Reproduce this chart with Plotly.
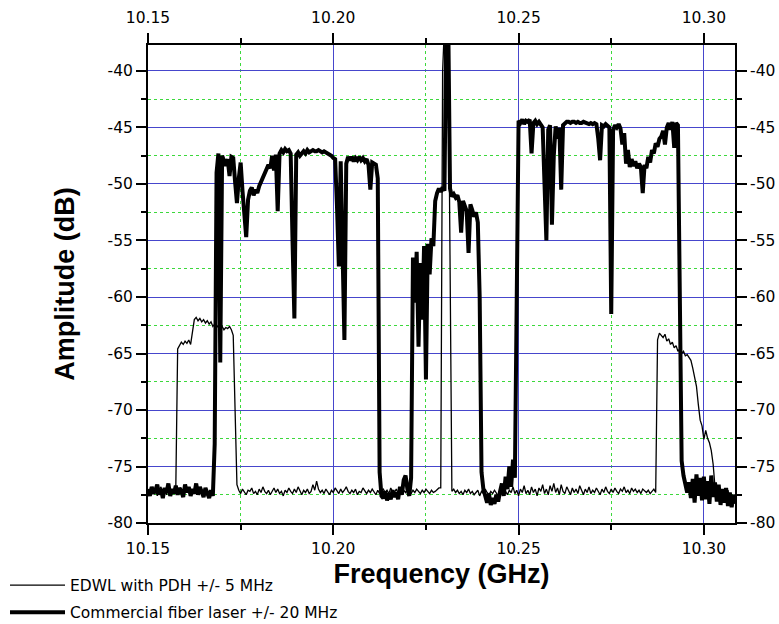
import plotly.graph_objects as go

# Sampling grid of the spectrum analyser trace (GHz)
f_start = 10.15
f_step = 0.0005

# EDWL with PDH +/- 5 MHz (thin trace), amplitudes in dB
edwl_amp = (
    # baseline
    [-77.2, -77.5, -76.9, -77.3, -77.0, -77.6, -77.1, -76.8, -77.4, -77.2,
     -77.5, -76.9, -77.3, -77.1, -77.4, -77.0]
    # lower sideband
    + [-64.6, -64.3, -64.0, -64.2, -63.9, -64.1, -63.8, -64.2, -63.0, -62.0,
       -61.8, -62.1, -61.9, -62.2, -62.0, -62.3, -62.1, -62.4, -62.2, -62.6,
       -62.4, -62.7, -62.5, -62.8, -62.6, -62.9, -62.7, -62.8, -62.6, -62.9,
       -63.4, -70.0, -76.6]
    # baseline
    + [-77.1, -77.4, -77.0, -77.3, -77.5, -77.1, -77.2, -76.9, -77.4, -77.2,
       -77.5, -77.0, -77.3, -76.8, -77.2, -77.4, -77.1, -77.5, -77.2, -76.9,
       -77.3, -77.0, -77.4, -77.2, -77.6, -77.1, -77.3, -76.9, -77.2, -77.4,
       -77.0, -77.3, -76.8, -77.2, -77.5, -77.1, -77.3, -77.0, -77.4, -77.2,
       -76.6, -77.1, -76.3, -77.0, -77.3, -77.1, -77.4, -77.0, -77.2, -77.5,
       -77.1, -77.3, -76.9, -77.2, -77.4, -77.0, -77.3, -77.1, -76.8, -77.2,
       -77.4, -77.1, -77.3, -77.0, -77.5, -77.2, -77.3, -76.9, -77.2, -77.4,
       -77.1, -77.3, -77.0, -77.2, -77.5, -77.1, -77.4, -77.2, -77.0, -77.3,
       -77.1, -77.4, -76.9, -77.2, -77.3, -77.0, -77.4, -77.2, -77.5, -77.1,
       -77.3, -77.0, -77.2, -77.4, -77.1, -77.3, -77.0, -77.2, -77.4, -77.1,
       -77.3, -77.0, -77.2, -77.4, -77.1, -77.3, -77.2, -77.0, -76.9]
    # carrier
    + [-76.9, -40.0, -36.0, -35.0, -36.0, -55.0, -77.2]
    # baseline
    + [-77.0, -77.3, -77.1, -77.4, -77.2, -77.5, -77.1, -77.3, -77.0, -77.4,
       -77.2, -77.5, -77.3, -77.1, -77.6, -77.2, -77.4, -77.0, -77.3, -77.5,
       -77.2, -77.4, -77.1, -77.3, -77.6, -77.2, -77.0, -77.4, -77.2, -77.5,
       -77.1, -77.3, -76.8, -77.4, -77.1, -77.6, -77.0, -77.3, -76.7, -77.4,
       -77.1, -77.5, -76.8, -77.3, -77.0, -77.6, -76.9, -77.2, -76.6, -77.4,
       -77.0, -77.5, -76.7, -77.2, -76.5, -77.3, -76.9, -77.5, -76.6, -77.2,
       -77.4, -76.8, -77.1, -77.5, -76.9, -77.3, -77.0, -77.4, -76.7, -77.2,
       -77.5, -77.0, -77.3, -76.8, -77.4, -77.1, -77.3, -76.9, -77.2, -77.5,
       -77.0, -77.3, -76.8, -77.2, -77.4, -77.0, -77.3, -76.9, -77.2, -77.4,
       -77.0, -77.2, -76.8, -77.3, -77.1, -77.4, -76.9, -77.2, -77.0, -77.3,
       -77.1, -77.4, -77.0, -77.2, -77.3, -77.1, -77.4, -77.2, -77.0, -77.3]
    # upper sideband
    + [-63.8, -63.2, -63.4, -63.6, -63.3, -63.9, -63.7, -64.2, -64.0, -64.5,
       -64.3, -64.8, -64.6, -65.0, -64.8, -65.2, -65.1, -65.4, -65.6, -66.3,
       -67.0, -67.9, -69.5, -70.9, -71.4, -72.6, -71.8, -72.5, -72.9, -73.6,
       -74.8, -76.8]
    # baseline
    + [-77.5, -77.9, -77.2, -78.0, -77.4, -77.8, -77.1, -77.9, -77.5, -78.1,
       -77.6]
)

# Commercial fiber laser +/- 20 MHz (thick trace), amplitudes in dB
comm_amp = (
    [-77.0, -77.6, -76.8, -77.4, -77.1, -76.6, -77.5, -77.0, -77.8, -76.9,
     -77.3, -76.5, -77.6, -77.0, -77.4, -76.7, -77.5, -76.9, -77.2, -77.7,
     -76.6, -77.3, -76.8, -77.6, -77.0, -77.4, -76.5, -77.5, -76.8, -77.3,
     -77.7, -76.9, -77.4, -77.8, -77.1, -77.6]
    + [-73.0, -49.0, -47.3, -65.8, -47.5, -47.9, -48.4, -47.8, -49.3, -47.6,
       -47.7, -49.8, -51.7, -49.5, -48.1, -50.6, -52.3, -54.7, -51.4, -50.6,
       -50.3, -51.0, -50.5, -50.8, -50.2, -49.8, -49.5, -49.0, -48.8, -48.3,
       -48.6, -47.5, -48.8, -47.4, -52.4, -47.3, -47.0, -47.2, -46.9, -47.1,
       -47.0, -47.3, -55.0, -61.9, -47.4, -47.2, -47.5, -47.3, -47.1, -47.3,
       -47.0, -47.2, -47.1, -47.0, -47.1, -47.1, -47.0, -47.1, -47.2, -47.1,
       -47.2, -47.3, -47.3, -47.5, -47.7, -47.8, -52.0, -57.3, -48.0, -56.0,
       -63.8, -48.2, -47.6, -47.9, -47.6, -48.0, -47.7, -47.9, -47.6, -47.9,
       -47.7, -48.0, -47.8, -48.3, -50.5, -48.1, -48.2, -48.3, -49.5, -75.5,
       -77.6]
    + [-77.8, -77.2, -78.0, -77.4, -77.9, -77.1, -77.7, -77.3, -77.9, -76.8,
       -77.5, -76.2, -75.8, -77.0, -77.6]
    + [-76.0, -56.5, -60.5, -56.0, -64.4, -57.0, -62.0, -55.5, -67.3, -55.3,
       -58.0, -54.8, -55.5, -51.5, -50.8, -50.4, -50.7, -50.3, -50.6, -35.5,
       -35.0, -50.4, -51.1, -50.9, -51.2, -51.0, -51.6, -54.3, -51.5, -52.0,
       -52.4, -56.1, -51.8, -52.3, -52.9, -52.5, -53.4, -60.0, -75.5, -77.0]
    + [-77.6, -78.2, -77.4, -78.4, -77.8, -78.3, -77.5, -78.1, -77.2, -76.5,
       -77.6, -75.9, -77.0, -75.0, -76.8, -74.4, -76.0]
    + [-62.0, -44.4, -44.6, -44.3, -44.7, -44.4, -44.5, -44.3, -47.3, -44.6,
       -44.4, -44.7, -44.5, -44.8, -45.0, -50.0, -55.0, -45.2, -44.8, -53.6,
       -47.5, -44.9, -46.0, -45.0, -50.5, -44.8, -44.6, -44.5, -44.5, -44.6,
       -44.5, -44.5, -44.6, -44.5, -44.6, -44.6, -44.5, -44.6, -44.6, -44.7,
       -44.6, -44.7, -44.6, -44.7, -46.0, -47.9, -44.8, -44.9, -44.7, -44.9,
       -45.0, -61.5, -45.3, -44.8, -45.0, -44.7, -45.1, -46.5, -45.5, -48.2,
       -47.0, -48.5, -47.8, -48.4, -48.0, -48.6, -48.2, -48.5, -50.8, -48.3,
       -48.6, -47.6, -48.1, -47.0, -47.3, -46.4, -46.7, -46.0, -45.8, -45.3,
       -46.5, -45.0, -44.6, -45.2, -44.5, -46.8, -44.6, -44.8, -62.0, -74.5]
    + [-75.8, -76.5, -77.3, -76.4, -77.8, -76.1, -78.2, -75.7, -77.6, -76.0,
       -78.0, -75.9, -77.9, -76.3, -78.3, -75.8, -77.7, -76.4, -78.1, -76.6,
       -78.4, -77.0, -78.2, -76.9, -78.5, -77.3, -78.6, -77.5, -78.3]
)

freq_edwl = [round(f_start + f_step * i, 4) for i in range(len(edwl_amp))]
freq_comm = [round(f_start + f_step * i, 4) for i in range(len(comm_amp))]

x_range = [10.15, 10.3084]
y_range = [-80, -37.7]
y_ticks = [-80, -75, -70, -65, -60, -55, -50, -45, -40]
y_tick_labels = ["-80", "-75", "-70", "-65", "-60", "-55", "-50", "-45", "-40"]

font_title = "Liberation Sans, Arial, sans-serif"
font_ticks = "DejaVu Sans, Liberation Sans, sans-serif"
major_grid = "#4646cc"
minor_grid = "#3cd83c"

fig = go.Figure()
fig.add_trace(go.Scatter(
    x=freq_edwl, y=edwl_amp, mode="lines", name="EDWL with PDH +/- 5 MHz",
    legendgroup="a", line=dict(color="black", width=1.3),
))
fig.add_trace(go.Scatter(
    x=freq_comm, y=comm_amp, mode="lines", name="Commercial fiber laser +/- 20 MHz",
    legendgroup="b", line=dict(color="black", width=4),
))
fig.add_trace(go.Scatter(x=[], y=[], xaxis="x2", yaxis="y2", showlegend=False,
                         hoverinfo="skip"))

tickfont = dict(family=font_ticks, size=15.5, color="black")

common_x = dict(range=x_range, tickmode="linear", tick0=10.15, dtick=0.05,
                tickformat=".2f", ticks="outside", ticklen=10, tickwidth=1.5,
                tickcolor="black", showline=True, linecolor="black", linewidth=2,
                zeroline=False, tickfont=tickfont, automargin=False)
common_y = dict(range=y_range, tickmode="array", tickvals=y_ticks,
                ticktext=y_tick_labels, ticks="outside", ticklen=10,
                tickwidth=1.5, tickcolor="black", showline=True,
                linecolor="black", linewidth=2, zeroline=False,
                tickfont=tickfont, automargin=False)

fig.update_layout(
    width=779, height=624,
    margin=dict(l=148, r=44, t=45, b=101, autoexpand=False),
    paper_bgcolor="white", plot_bgcolor="white",
    xaxis=dict(**common_x, showgrid=True, gridcolor=major_grid, gridwidth=1,
               ticklabelstandoff=0,
               minor=dict(dtick=0.025, tick0=10.15, ticks="outside", ticklen=5,
                          tickcolor="black", showgrid=True, gridcolor=minor_grid,
                          griddash="dot", gridwidth=1),
               title=dict(text="Frequency (GHz)", standoff=8,
                          font=dict(family=font_title, size=27, color="black",
                                    weight="bold"))),
    yaxis=dict(**common_y, showgrid=True, gridcolor=major_grid, gridwidth=1,
               minor=dict(dtick=2.5, tick0=-80, ticks="outside", ticklen=5,
                          tickcolor="black", showgrid=True, gridcolor=minor_grid,
                          griddash="dot", gridwidth=1),
               title=dict(text="Amplitude (dB)", standoff=25,
                          font=dict(family=font_title, size=27, color="black",
                                    weight="bold"))),
    xaxis2=dict(**common_x, overlaying="x", side="top", anchor="y", showgrid=False,
                ticklabelstandoff=4,
                minor=dict(dtick=0.025, tick0=10.15, ticks="outside", ticklen=5,
                           tickcolor="black", showgrid=False)),
    yaxis2=dict(**common_y, overlaying="y", side="right", anchor="x", showgrid=False,
                minor=dict(dtick=2.5, tick0=-80, ticks="outside", ticklen=5,
                           tickcolor="black", showgrid=False)),
    showlegend=True,
    legend=dict(x=-0.2436, y=-0.0955, xanchor="left", yanchor="top",
                bgcolor="rgba(0,0,0,0)", itemwidth=55, tracegroupgap=4,
                font=dict(family=font_ticks, size=15.5, color="black")),
)

fig.write_html("out.html")
